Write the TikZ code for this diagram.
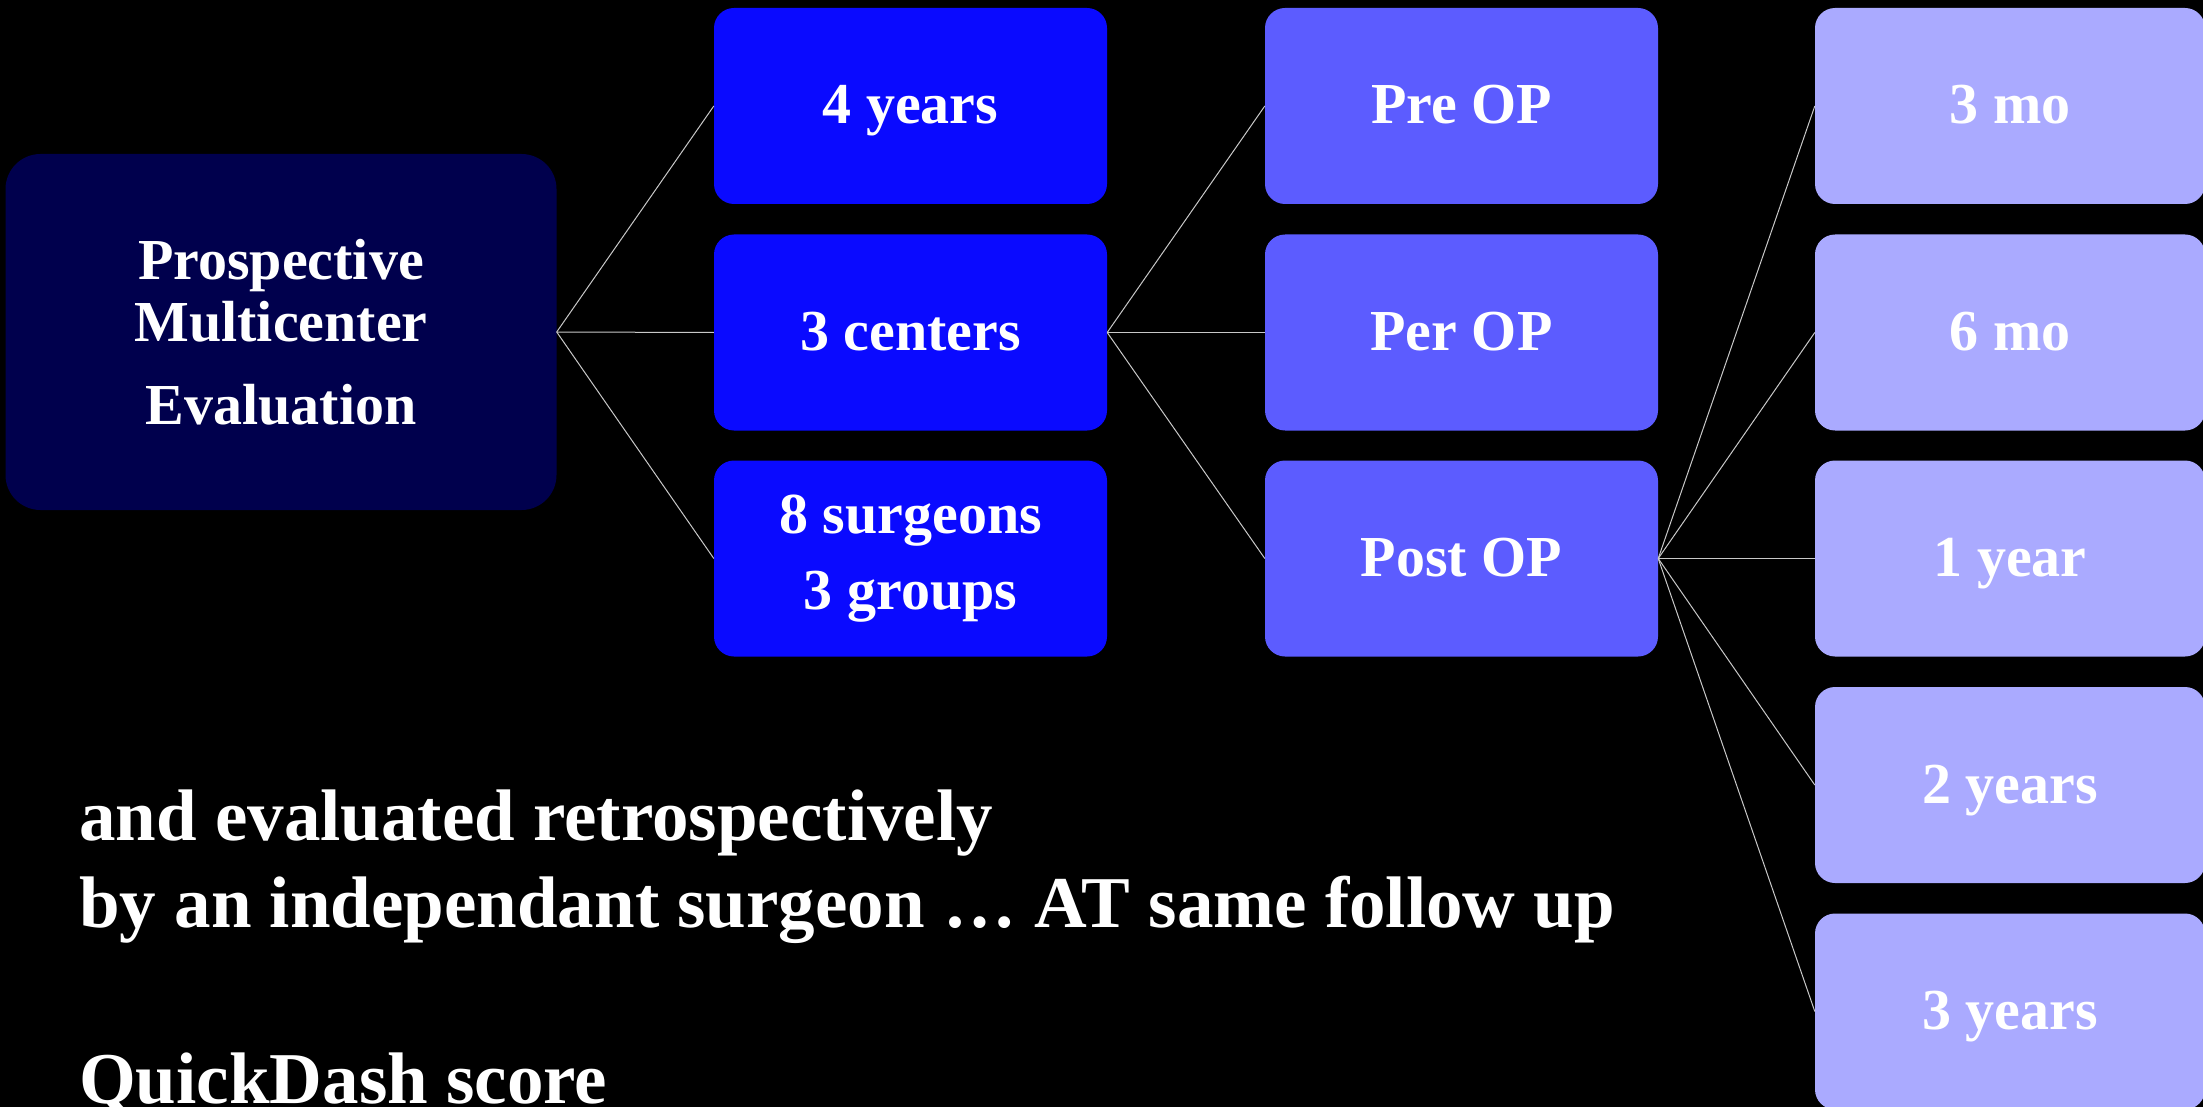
\documentclass[tikz,border=0pt]{standalone}
\usepackage{fontspec}
\setmainfont{Liberation Serif}
\definecolor{navybox}{RGB}{0,0,77}
\definecolor{bluebox}{RGB}{10,10,255}
\definecolor{midbox}{RGB}{92,92,255}
\definecolor{lightbox}{RGB}{170,170,255}
\definecolor{linkgray}{RGB}{200,200,200}
\begin{document}
\begin{tikzpicture}[x=1pt,y=-1pt,
  box/.style={rounded corners=20pt, minimum width=393pt, minimum height=196pt,
    inner sep=0pt, text=white, align=center,
    font=\bfseries\fontsize{58}{62}\selectfont},
  oneline/.style={text height=36pt, text depth=0pt},
  c2/.style={box, fill=bluebox},
  c3/.style={box, fill=midbox},
  c4/.style={box, fill=lightbox, minimum width=390pt},
  link/.style={draw=linkgray, line width=1pt}]
\useasboundingbox (0,0) rectangle (2203,1107);
\fill[black] (0,0) rectangle (2203,1107);

\node[box, fill=navybox, rounded corners=35pt, minimum width=551pt, minimum height=356pt]
  (eval) at (281,332) {Prospective\\Multicenter\\[21pt]Evaluation};

\node[c2, oneline] (years) at (910.5,106) {4 years};
\node[c2, oneline] (centers) at (910.5,332.5) {3 centers};
\node[c2] (surg) at (910.5,558.5) {8 surgeons\\[14pt]3 groups};

\node[c3, oneline] (pre) at (1461.5,106) {Pre OP};
\node[c3, oneline] (per) at (1461.5,332.5) {Per OP};
\node[c3, oneline] (post) at (1461.5,558.5) {Post OP};

\node[c4, oneline] (m3) at (2010,106) {3 mo};
\node[c4, oneline] (m6) at (2010,332.5) {6 mo};
\node[c4, oneline] (y1) at (2010,558.5) {1 year};
\node[c4, oneline] (y2) at (2010,785) {2 years};
\node[c4, oneline] (y3) at (2010,1011.5) {3 years};

\draw[link] (eval.east) -- (years.west);
\draw[link] (eval.east) -- (centers.west);
\draw[link] (eval.east) -- (surg.west);
\draw[link] (centers.east) -- (pre.west);
\draw[link] (centers.east) -- (per.west);
\draw[link] (centers.east) -- (post.west);
\draw[link] (post.east) -- (m3.west);
\draw[link] (post.east) -- (m6.west);
\draw[link] (post.east) -- (y1.west);
\draw[link] (post.east) -- (y2.west);
\draw[link] (post.east) -- (y3.west);

\node[anchor=base west, align=left, inner sep=0pt, text=white,
  font=\bfseries\fontsize{73}{87}\selectfont] (note) at (79,1103)
  {and evaluated retrospectively\\by an independant surgeon … AT same follow up\\[89pt]QuickDash score};
\end{tikzpicture}
\end{document}
